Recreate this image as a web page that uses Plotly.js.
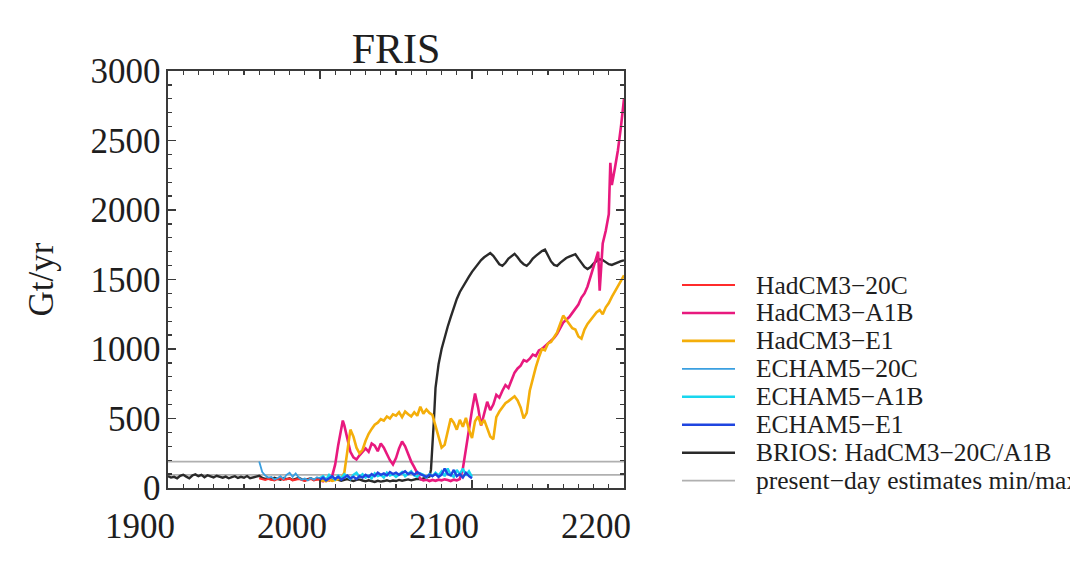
<!DOCTYPE html>
<html>
<head>
<meta charset="utf-8">
<script src="https://cdn.plot.ly/plotly-3.0.1.min.js"></script>
<style>html,body{margin:0;padding:0;background:#fff;}#chart{width:1070px;height:561px;}</style>
</head>
<body>
<div id="chart"></div>
<script>
// ---------------- DATA ----------------
const chartTitle = "FRIS";
const yAxisTitle = "Gt/yr";
const xTickVals = [1900, 2000, 2100, 2200];
const yTickVals = [0, 500, 1000, 1500, 2000, 2500, 3000];

// BRIOS: HadCM3-20C/A1B
const briosYears = [1900,1902,1904,1906,1908,1910,1912,1914,1916,1918,1920,1922,1924,1926,1928,1930,1932,1934,1936,1938,1940,1942,1944,1946,1948,1950,1952,1954,1956,1958,1960,1962,1964,1966,1968,1970,1972,1974,1976,1978,1980,1982,1984,1986,1988,1990,1992,1994,1996,1998,2000,2002,2004,2006,2008,2010,2012,2014,2016,2018,2020,2022,2024,2026,2028,2030,2032,2034,2036,2038,2040,2042,2044,2046,2048,2050,2052,2054,2056,2058,2060,2062,2064,2066,2068,2070,2072,2073,2074,2075,2076,2078,2080,2082,2084,2086,2088,2090,2092,2094,2096,2098,2100,2102,2104,2106,2108,2110,2112,2114,2116,2118,2120,2122,2124,2126,2128,2130,2132,2134,2136,2138,2140,2142,2144,2146,2148,2150,2152,2154,2156,2158,2160,2162,2164,2166,2168,2170,2172,2174,2176,2178,2180,2182,2184,2186,2188,2190,2192,2194,2196,2198,2200];
const briosVals = [85,75,80,70,88,95,82,70,90,98,85,95,78,92,84,76,88,80,74,82,70,78,85,72,80,74,86,70,78,82,88,72,65,70,62,74,66,60,72,64,70,58,66,74,62,55,64,70,58,66,72,60,55,62,58,66,60,52,58,64,56,50,58,62,54,48,55,50,44,52,46,50,56,48,54,50,58,52,56,62,55,60,66,62,70,75,82,130,280,500,720,890,1000,1090,1160,1230,1300,1360,1410,1450,1490,1520,1555,1585,1610,1640,1660,1675,1690,1670,1640,1610,1598,1620,1650,1670,1685,1660,1630,1610,1598,1620,1650,1670,1690,1705,1715,1670,1630,1605,1598,1620,1640,1655,1665,1675,1682,1650,1615,1590,1575,1590,1615,1635,1645,1640,1625,1610,1605,1615,1625,1632,1638];

// HadCM3-20C
const had20cYears = [1960,1962,1964,1966,1968,1970,1972,1974,1976,1978,1980,1982,1984,1986,1988,1990,1992,1994,1996,1998,2000];
const had20cVals = [70,62,58,66,60,55,64,70,58,62,68,56,60,66,58,52,60,66,56,62,58];

// HadCM3-A1B
const hadA1bYears = [2000,2002,2004,2006,2008,2010,2012,2014,2015,2016,2018,2020,2022,2024,2026,2028,2030,2032,2034,2036,2038,2040,2042,2044,2046,2048,2050,2052,2054,2056,2058,2060,2062,2064,2066,2068,2070,2072,2074,2076,2078,2080,2082,2084,2086,2088,2090,2092,2094,2096,2098,2100,2102,2104,2106,2108,2110,2112,2114,2116,2118,2120,2122,2124,2126,2128,2130,2132,2134,2136,2138,2140,2142,2144,2146,2148,2150,2152,2154,2156,2158,2160,2162,2164,2166,2168,2170,2172,2174,2176,2178,2180,2182,2183,2184,2185,2186,2188,2190,2191,2192,2194,2196,2198,2200];
const hadA1bVals = [55,48,62,55,85,170,310,440,485,450,350,260,220,205,235,260,285,260,320,305,265,320,290,245,200,170,215,285,335,300,240,190,150,110,65,55,60,50,58,52,60,55,62,58,50,60,55,65,140,280,430,560,680,580,450,540,620,560,600,670,650,700,740,720,780,830,860,880,920,910,930,960,950,990,1000,1020,1040,1060,1080,1110,1150,1190,1210,1230,1260,1290,1320,1370,1400,1450,1520,1590,1660,1700,1420,1600,1760,1850,1970,2340,2180,2300,2430,2600,2800];

// HadCM3-E1
const hadE1Years = [2000,2002,2004,2006,2008,2010,2012,2014,2016,2018,2020,2022,2024,2026,2028,2030,2032,2034,2036,2038,2040,2042,2044,2046,2048,2050,2052,2054,2056,2058,2060,2062,2064,2066,2068,2070,2072,2074,2076,2078,2080,2082,2084,2086,2088,2090,2092,2094,2096,2098,2100,2102,2104,2106,2108,2110,2112,2114,2116,2118,2120,2122,2124,2126,2128,2130,2132,2134,2136,2138,2140,2142,2144,2146,2148,2150,2152,2154,2156,2158,2160,2162,2164,2166,2168,2170,2172,2174,2176,2178,2180,2182,2184,2186,2188,2190,2192,2194,2196,2198,2200];
const hadE1Vals = [50,55,48,60,52,58,62,70,110,260,420,370,290,250,275,340,390,425,455,470,495,485,515,500,530,520,545,510,550,530,515,545,520,585,535,565,540,525,440,370,290,310,410,500,470,420,490,440,505,420,360,480,515,455,490,430,370,350,510,550,585,610,625,645,660,630,580,500,540,700,790,870,940,1000,990,1040,1050,1090,1120,1180,1240,1210,1180,1150,1140,1090,1075,1140,1180,1210,1240,1265,1280,1250,1300,1330,1375,1410,1450,1490,1530];

// ECHAM5-20C
const ech20cYears = [1960,1961,1962,1964,1966,1968,1970,1972,1974,1976,1978,1980,1982,1984,1986,1988,1990,1992,1994,1996,1998,2000];
const ech20cVals = [190,150,115,90,75,80,62,70,85,65,95,110,80,105,75,60,68,55,72,60,78,70];

// ECHAM5-A1B
const echA1bYears = [2000,2002,2004,2006,2008,2010,2012,2014,2016,2018,2020,2022,2024,2026,2028,2030,2032,2034,2036,2038,2040,2042,2044,2046,2048,2050,2052,2054,2056,2058,2060,2062,2064,2066,2068,2070,2072,2074,2076,2078,2080,2082,2084,2086,2088,2090,2092,2094,2096,2098,2100];
const echA1bVals = [70,85,60,95,75,60,90,70,100,80,65,95,110,80,100,75,90,70,105,85,95,75,110,90,100,80,95,115,85,100,120,90,80,105,95,75,100,85,110,90,120,85,140,95,80,130,100,140,90,120,80];

// ECHAM5-E1
const echE1Years = [2000,2002,2004,2006,2008,2010,2012,2014,2016,2018,2020,2022,2024,2026,2028,2030,2032,2034,2036,2038,2040,2042,2044,2046,2048,2050,2052,2054,2056,2058,2060,2062,2064,2066,2068,2070,2072,2074,2076,2078,2080,2082,2084,2086,2088,2090,2092,2094,2096,2098,2100];
const echE1Vals = [60,75,55,70,85,65,80,60,75,90,70,80,65,85,75,95,80,100,85,110,95,105,90,115,100,110,95,105,120,100,110,95,115,100,90,80,95,85,100,80,95,140,100,90,130,85,100,75,110,85,70];

// present-day estimates min/max
const presentYears = [1900, 2200];
const presentMin = 95;
const presentMax = 190;

// ---------------- SERIES STYLES ----------------
const FONT = "Liberation Serif, Times New Roman, serif";
const series = [
  {name: "HadCM3\u221220C",  x: had20cYears, y: had20cVals, color: "#ff2b2b", width: 2.2},
  {name: "HadCM3\u2212A1B",  x: hadA1bYears, y: hadA1bVals, color: "#e8197e", width: 2.6},
  {name: "HadCM3\u2212E1",   x: hadE1Years,  y: hadE1Vals,  color: "#f4ae0a", width: 2.6},
  {name: "ECHAM5\u221220C",  x: ech20cYears, y: ech20cVals, color: "#3a9fe0", width: 1.8},
  {name: "ECHAM5\u2212A1B",  x: echA1bYears, y: echA1bVals, color: "#18d6ee", width: 2.4},
  {name: "ECHAM5\u2212E1",   x: echE1Years,  y: echE1Vals,  color: "#1f45e0", width: 2.4},
  {name: "BRIOS: HadCM3\u221220C/A1B", x: briosYears, y: briosVals, color: "#2a2a2a", width: 2.4},
  {name: "present\u2212day estimates min/max",
     x: [presentYears[0], presentYears[1], null, presentYears[0], presentYears[1]],
     y: [presentMax, presentMax, null, presentMin, presentMin], color: "#b0b0b0", width: 1.8}
];

// draw order: gray behind, then black, then models
const drawOrder = [7, 6, 0, 1, 2, 3, 4, 5];
const traces = drawOrder.map(i => ({
  type: "scatter", mode: "lines", name: series[i].name,
  x: series[i].x, y: series[i].y,
  line: {color: series[i].color, width: series[i].width},
  showlegend: false, connectgaps: false, hoverinfo: "skip"
}));

// ---------------- LAYOUT ----------------
const L = 168, R = 624, T = 71, B = 488, W = 1070, H = 561;
const pw = R - L, ph = B - T;
const px2paperX = p => (p - L) / pw;
const px2paperY = p => (B - p) / ph;

const shapes = [];
const annotations = [];
series.forEach((s, k) => {
  const yc = 285 + k * 27.95;
  shapes.push({type: "line", xref: "paper", yref: "paper",
    x0: px2paperX(682), x1: px2paperX(735), y0: px2paperY(yc), y1: px2paperY(yc),
    line: {color: s.color, width: s.width}});
  annotations.push({xref: "paper", yref: "paper", x: px2paperX(754), y: px2paperY(yc),
    xanchor: "left", yanchor: "middle", showarrow: false, text: s.name,
    font: {family: FONT, size: 25.5, color: "#1e1e1e"}});
});

const axisCommon = {
  showline: true, linecolor: "#3a3a3a", linewidth: 1.6, mirror: "allticks",
  ticks: "inside", ticklen: 8, tickwidth: 1.6, tickcolor: "#3a3a3a",
  showgrid: false, zeroline: false, fixedrange: true,
  tickfont: {family: FONT, size: 35, color: "#1e1e1e"}
};

const layout = {
  width: W, height: H,
  margin: {l: L, r: W - R, t: T, b: H - B, pad: 0},
  paper_bgcolor: "#ffffff", plot_bgcolor: "#ffffff",
  title: {text: chartTitle, font: {family: FONT, size: 42, color: "#1e1e1e"},
          xref: "paper", x: 0.5, xanchor: "center", yref: "container", y: 1 - 48 / H, yanchor: "middle"},
  xaxis: Object.assign({}, axisCommon, {
    range: [1900, 2200], tickmode: "array", tickvals: xTickVals, ticktext: xTickVals.map(String),
    ticklabelshift: -28, ticklabelstandoff: 6,
    minor: {dtick: 10, tick0: 1900, ticks: "inside", ticklen: 4, tickwidth: 1.3, tickcolor: "#3a3a3a", showgrid: false}
  }),
  yaxis: Object.assign({}, axisCommon, {
    range: [0, 3000], tickmode: "array", tickvals: yTickVals, ticktext: yTickVals.map(String),
    ticklabelstandoff: -1,
    title: {text: yAxisTitle, font: {family: FONT, size: 35, color: "#1e1e1e"}, standoff: 26},
    minor: {dtick: 100, tick0: 0, ticks: "inside", ticklen: 4, tickwidth: 1.3, tickcolor: "#3a3a3a", showgrid: false}
  }),
  shapes: shapes,
  annotations: annotations,
  showlegend: false
};

Plotly.newPlot("chart", traces, layout, {displayModeBar: false, staticPlot: true});
</script>
</body>
</html>
